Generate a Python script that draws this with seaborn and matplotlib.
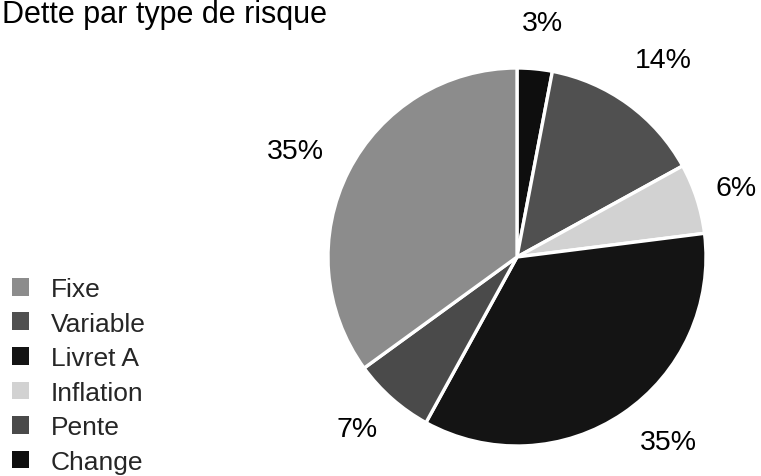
import matplotlib
matplotlib.use("Agg")
import matplotlib.pyplot as plt
import numpy as np
import seaborn as sns

# Debt breakdown by risk type (percent), in drawing order from 12 o'clock clockwise
slice_labels = ["Change", "Variable", "Inflation", "Livret A", "Pente", "Fixe"]
slice_values = [3, 14, 6, 35, 7, 35]

# Legend order
legend_labels = ["Fixe", "Variable", "Livret A", "Inflation", "Pente", "Change"]

title_text = "Dette par type de risque"

sns.set_theme(style="white")
plt.rcParams["font.family"] = ["Liberation Sans", "DejaVu Sans"]

grey_for = {
    "Fixe": "#8c8c8c",
    "Variable": "#505050",
    "Livret A": "#141414",
    "Inflation": "#d2d2d2",
    "Pente": "#4a4a4a",
    "Change": "#0e0e0e",
}
palette = sns.color_palette([grey_for[k] for k in slice_labels])

W, H = 761, 477
fig = plt.figure(figsize=(W / 100, H / 100), dpi=100)
fig.patch.set_facecolor("white")

cx, cy, r = 517, 258, 189
ax = fig.add_axes([(cx - r) / W, (H - cy - r) / H, 2 * r / W, 2 * r / H])

wedges, _ = ax.pie(
    slice_values,
    colors=palette,
    startangle=90,
    counterclock=False,
    wedgeprops=dict(edgecolor="white", linewidth=2.4),
)
ax.set_xlim(-1, 1)
ax.set_ylim(-1, 1)
ax.set_aspect("equal")
ax.axis("off")

# percentage labels just outside each wedge: radial distance and small angular nudge
label_dist = [1.245, 1.30, 1.215, 1.265, 1.245, 1.30]
label_nudge = [-0.7, -0.6, -0.5, 5.0, -1.5, 1.5]
for w, v, d, nd in zip(wedges, slice_values, label_dist, label_nudge):
    ang = np.deg2rad((w.theta1 + w.theta2) / 2 + nd)
    ax.text(d * np.cos(ang), d * np.sin(ang), f"{v}%",
            ha="center", va="center", fontsize=20.5, color="black")

fig.text(2 / W, 1 - 23 / H, title_text, ha="left", va="baseline",
         fontsize=22, color="black")

handles = [wedges[slice_labels.index(k)] for k in legend_labels]
leg = fig.legend(
    handles, legend_labels,
    loc="upper left", bbox_to_anchor=(12 / W, 1 - 278 / H),
    frameon=False, fontsize=19,
    handlelength=0.66, handleheight=0.66, handletextpad=0.8,
    labelspacing=0.40, borderpad=0, borderaxespad=0,
)
for p in leg.get_patches():
    p.set_edgecolor("none")

fig.savefig("out.png", dpi=100, facecolor="white")
